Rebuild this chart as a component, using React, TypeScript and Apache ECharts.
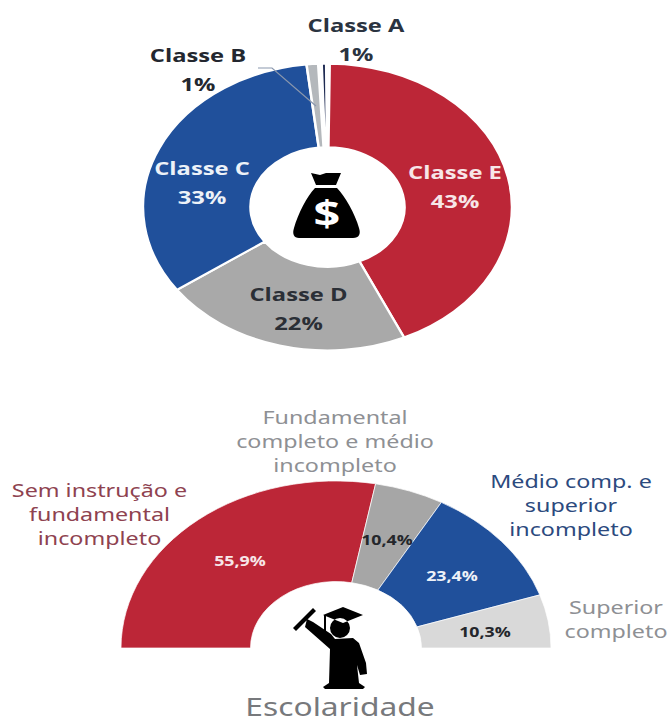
import React, { useEffect, useRef } from "react";
import * as echarts from "echarts";

const classCategories = ["Classe E", "Classe D", "Classe C", "Classe B", "Classe A"];
const classValues = [43, 22, 33, 1, 1];
const classColors = ["#BC2637", "#A9A9A9", "#20509B", "#B4B8BC", "#1E2A52"];
const classInsetDeg = [0, 0, 0, 0, 1.1];

const schoolCategories = [
  "Sem instrução e\nfundamental\nincompleto",
  "Fundamental\ncompleto e médio\nincompleto",
  "Médio comp. e\nsuperior\nincompleto",
  "Superior\ncompleto",
];
const schoolValues = [55.9, 10.4, 23.4, 10.3];
const schoolLabels = ["55,9%", "10,4%", "23,4%", "10,3%"];
const schoolColors = ["#BC2637", "#A6A6A6", "#20509B", "#D9D9D9"];

const BAG =
  "M18 1 L27 3 L33 1 L48 1 L43 13 L23 13 Z M22 16 L44 16 C52 24 62 42 66 56 C68 62 66 66 60 66 L6 66 C1 66 -1 62 1 56 C5 42 14 24 22 16 Z";
const GRAD =
  "M0 27 L20 7 L23 10 L3 30 Z M14 18 L20 21 L38 33 L42 38 L60 37 L66 42 L73 62 L74 73 L67 74 L64 64 L66 82 L72 86 L70 88 L32 88 L30 86 L36 82 L37 48 L12 26 Z M37 27 a10 10 0 1 0 20 0 a10 10 0 1 0 -20 0 Z M30 14 L50 6 L70 14 L50 22 Z M31 14 L33 14 L33 30 L31 30 Z";
echarts.graphic.registerShape("moneyBag", echarts.graphic.extendPath(BAG, {}));
echarts.graphic.registerShape("graduate", echarts.graphic.extendPath(GRAD, {}));

type Ring = {
  values: number[];
  colors: string[];
  insets?: number[];
  cx: number;
  cy: number;
  r: number;
  r0: number;
  squash: number;
  start: number;
  sweep: number;
  stroke: number;
};

function ringSeries(ring: Ring) {
  const total = ring.values.reduce((a, b) => a + b, 0);
  return {
    type: "custom",
    coordinateSystem: "none",
    silent: true,
    data: ring.values,
    renderItem(params: any) {
      const i = params.dataIndex;
      const before = ring.values.slice(0, i).reduce((a, b) => a + b, 0);
      const toRad = (v: number) => ring.start + (v / total) * ring.sweep;
      const inset = ((ring.insets ? ring.insets[i] : 0) * Math.PI) / 180;
      return {
        type: "sector",
        x: ring.cx,
        y: ring.cy,
        scaleY: ring.squash,
        shape: {
          cx: 0,
          cy: 0,
          r: ring.r,
          r0: ring.r0,
          startAngle: toRad(before) + inset,
          endAngle: toRad(before + ring.values[i]) - inset,
          clockwise: true,
        },
        style: { fill: ring.colors[i], stroke: "#fff", lineWidth: ring.stroke },
      };
    },
  };
}

const OPEN = '"Open Sans", sans-serif';
const NOTO = '"Noto Sans", sans-serif';

function label(text: string, x: number, y: number, fill: string, font: string, lineHeight = 24, scaleX = 1.26) {
  return {
    type: "text",
    z: 20,
    x,
    y,
    scaleX,
    style: { text, x: 0, y: 0, fill, font, lineHeight, align: "center", verticalAlign: "middle" },
  };
}

export default function App() {
  const ref = useRef<HTMLDivElement>(null);
  useEffect(() => {
    document.body.style.margin = "0";
    const chart = echarts.init(ref.current!, undefined, { renderer: "svg" });
    const bold = `700 18px ${OPEN}`;
    const cText = (i: number, x: number, y: number, fill: string) =>
      label(`${classCategories[i]}\n${Math.round(classValues[i])}%`, x, y, fill, bold, 29, 1.32);
    const soft = `400 18.5px ${NOTO}`;
    const pct = `700 13.5px ${OPEN}`;
    chart.setOption({
      animation: false,
      backgroundColor: "#fff",
      series: [
        ringSeries({
          values: classValues, colors: classColors, insets: classInsetDeg,
          cx: 327.5, cy: 207, r: 184.5, r0: 77, squash: 0.777,
          start: -Math.PI / 2 + 0.012, sweep: Math.PI * 2, stroke: 2.5,
        }),
        ringSeries({
          values: schoolValues, colors: schoolColors,
          cx: 336, cy: 648, r: 215, r0: 85.5, squash: 0.777,
          start: Math.PI, sweep: Math.PI, stroke: 0.8,
        }),
      ],
      graphic: {
        elements: [
          { type: "polyline", z: 15, shape: { points: [[258, 68], [272, 68], [316, 106]] }, style: { stroke: "#8A97AD", lineWidth: 1.2, fill: "none" } },
          cText(4, 356, 39.5, "#2A3340"),
          cText(3, 198, 69.5, "#23272F"),
          cText(2, 202, 182.5, "#EDF2F8"),
          cText(0, 455, 186.5, "#F7E6E8"),
          cText(1, 298.5, 308.5, "#2B2F36"),
          { type: "moneyBag", z: 15, x: 293, y: 172, style: { fill: "#000" } },
          label("$", 327, 212, "#fff", `700 36px ${OPEN}`, 40, 1.3),
          label(schoolCategories[1], 335, 441, "#8E9094", soft),
          label(schoolCategories[2], 571, 505, "#2C4A7E", soft),
          label(schoolCategories[0], 99.5, 514, "#8E4250", soft),
          label(schoolCategories[3], 616, 619, "#8E9094", soft),
          label(schoolLabels[0], 240, 561, "#F7E6E8", pct, 18, 1.32),
          label(schoolLabels[1], 387, 540, "#24262B", pct, 18, 1.32),
          label(schoolLabels[2], 452, 576, "#EDF2F8", pct, 18, 1.32),
          label(schoolLabels[3], 485, 632, "#24262B", pct, 18, 1.32),
          { type: "graduate", z: 15, x: 293, y: 601, style: { fill: "#000" } },
          label("Escolaridade", 340, 706, "#77797C", `400 25px ${NOTO}`, 26, 1.27),
        ],
      },
    });
    return () => chart.dispose();
  }, []);
  return <div ref={ref} style={{ position: "fixed", left: 0, top: 0, width: 671, height: 722 }} />;
}
